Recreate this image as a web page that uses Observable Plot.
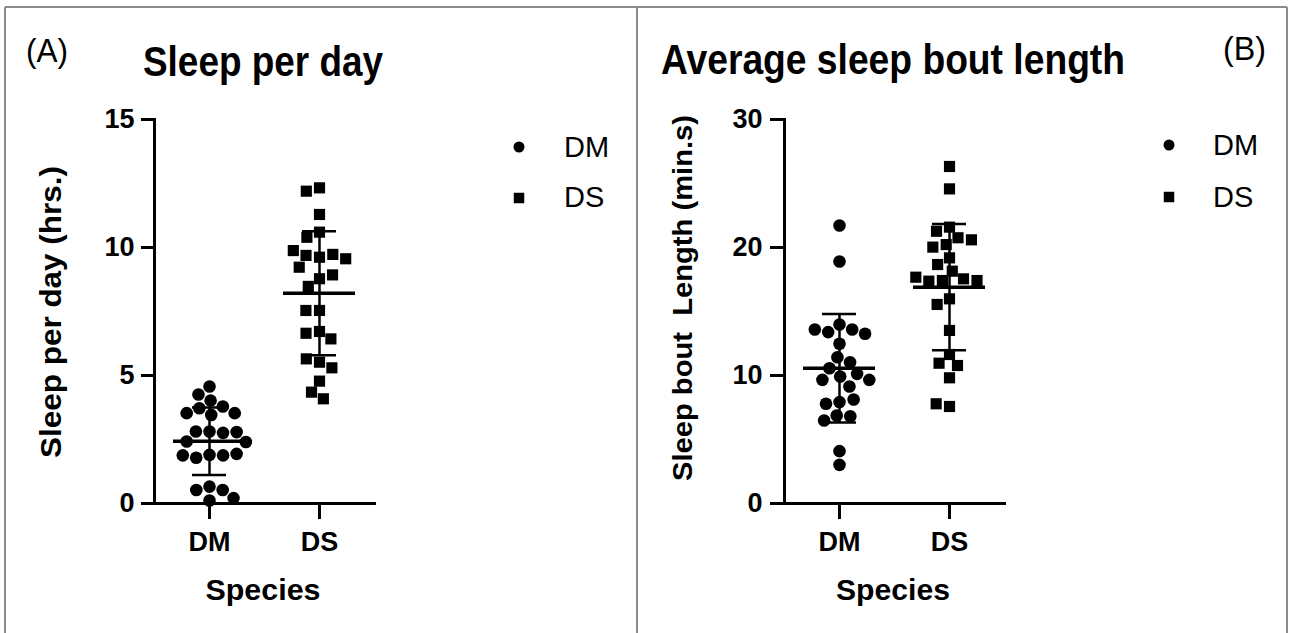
<!DOCTYPE html>
<html><head><meta charset="utf-8">
<script src="https://cdn.jsdelivr.net/npm/d3@7"></script>
<script src="https://cdn.jsdelivr.net/npm/@observablehq/plot@0.6"></script>
<style>
html,body{margin:0;padding:0;background:#fff;}
#wrap{position:relative;width:1289px;height:633px;overflow:hidden;background:#fff;}
#wrap svg{position:absolute;top:0;}
#wrap text{white-space:pre;}
</style></head><body><div id="wrap"></div>
<script>
const FONT = '"Liberation Sans", Arial, Helvetica, sans-serif';
// ---- data ----
const species = ["DM", "DS"];
const symbols = ["circle", "square"];
const sleepDM = [4.57, 4.26, 4.02, 3.72, 3.79, 3.53, 3.53, 3.46, 2.81, 2.81, 2.76, 2.79, 2.42, 2.40, 1.90, 1.79, 1.88, 1.88, 1.94, 0.66, 0.53, 0.53, 0.12, 0.21];
const sleepDS = [12.33, 12.20, 11.29, 10.60, 10.40, 9.62, 9.69, 9.73, 9.88, 9.56, 9.23, 8.78, 8.93, 8.48, 7.54, 7.54, 6.72, 6.65, 6.43, 5.52, 5.65, 5.30, 4.78, 4.35, 4.09];
const boutDM = [21.72, 18.91, 13.98, 13.39, 13.59, 13.59, 13.26, 12.48, 11.43, 11.04, 10.57, 9.92, 10.13, 9.66, 9.66, 9.14, 7.92, 7.79, 8.13, 6.88, 6.82, 6.48, 4.09, 3.02];
const boutDS = [26.33, 24.58, 21.59, 21.27, 20.76, 20.60, 20.23, 20.03, 19.19, 18.67, 18.15, 17.42, 17.55, 17.37, 17.42, 17.68, 15.99, 15.55, 13.52, 11.64, 10.96, 10.78, 9.82, 7.58, 7.79];
const sleepTicks = [0, 5, 10, 15];
const boutTicks = [0, 10, 20, 30];
const titles = ["Sleep per day", "Average sleep bout length"];
const panelTags = ["(A)", "(B)"];
const yLabels = ["Sleep per day (hrs.)", "Sleep bout  Length (min.s)"];
const xLabel = "Species";

const rowsOf = (dm, ds) => [
  ...dm.map(value => ({species: species[0], value})),
  ...ds.map(value => ({species: species[1], value}))
];
const hi = v => d3.mean(v) + d3.deviation(v);
const lo = v => d3.mean(v) - d3.deviation(v);
const centre = () => 0;

function panel({rows, yMax, ticks, width, marginLeft, marginRight, tickSize, tickPadding}) {
  return Plot.plot({
    width, height: 633, marginLeft, marginRight, marginTop: 119, marginBottom: 130,
    style: {fontFamily: FONT, background: "transparent", overflow: "visible", color: "black"},
    x: {domain: [-1, 1], axis: null},
    y: {domain: [0, yMax]},
    fx: {domain: species, paddingInner: 0, paddingOuter: 0.164, label: null},
    symbol: {domain: species, range: symbols},
    marks: [
      Plot.frame({anchor: "left", facet: "super", stroke: "black", strokeWidth: 3}),
      Plot.frame({anchor: "bottom", facet: "super", stroke: "black", strokeWidth: 3}),
      Plot.axisY(ticks, {tickSize, tickPadding, fontSize: 27, fontWeight: "bold", strokeWidth: 3, label: null}),
      Plot.axisFx({anchor: "bottom", tickSize: 16, tickPadding: 12, fontSize: 27, fontWeight: "bold", strokeWidth: 3, label: null}),
      Plot.dot(rows, Plot.dodgeX("middle", {y: "value", fx: "species", symbol: "species", r: 6.3, padding: 0, fill: "black", stroke: "none"})),
      Plot.ruleX(rows, Plot.groupZ({x: centre, y1: lo, y2: hi}, {x: "value", y1: "value", y2: "value", fx: "species", stroke: "black", strokeWidth: 2.5})),
      Plot.tickY(rows, Plot.groupZ({y: "mean"}, {y: "value", fx: "species", stroke: "black", strokeWidth: 3.5, insetLeft: 19, insetRight: 19})),
      Plot.tickY(rows, Plot.groupZ({y: hi}, {y: "value", fx: "species", stroke: "black", strokeWidth: 2.5, insetLeft: 38, insetRight: 38})),
      Plot.tickY(rows, Plot.groupZ({y: lo}, {y: "value", fx: "species", stroke: "black", strokeWidth: 2.5, insetLeft: 38, insetRight: 38}))
    ]
  });
}

const wrap = document.getElementById("wrap");
const pA = panel({rows: rowsOf(sleepDM, sleepDS), yMax: 15, ticks: sleepTicks, width: 637, marginLeft: 135, marginRight: 244, tickSize: 13, tickPadding: 7});
pA.style.left = "0px";
wrap.appendChild(pA);
const pB = panel({rows: rowsOf(boutDM, boutDS), yMax: 30, ticks: boutTicks, width: 652, marginLeft: 128, marginRight: 266, tickSize: 14, tickPadding: 8});
pB.style.left = "637px";
wrap.appendChild(pB);

// ---- overlay: frame, titles, labels, legends ----
const ov = d3.create("svg").attr("width", 1289).attr("height", 633)
  .style("left", "0px").style("pointer-events", "none").attr("font-family", FONT);
const border = "#8c8c8c";
ov.append("line").attr("x1", 5).attr("x2", 1287).attr("y1", 7).attr("y2", 7).attr("stroke", border).attr("stroke-width", 2);
[5, 637, 1287].forEach(x => ov.append("line").attr("x1", x).attr("x2", x).attr("y1", 7).attr("y2", 640).attr("stroke", border).attr("stroke-width", 2));

function txt(s, x, y, size, weight, len, anchor = "start", rot = 0) {
  const t = ov.append("text").attr("x", x).attr("y", y).attr("font-size", size)
    .attr("font-weight", weight).attr("text-anchor", anchor).attr("fill", "black")
    .attr("xml:space", "preserve").style("white-space", "pre").text(s);
  if (len) t.attr("textLength", len).attr("lengthAdjust", "spacingAndGlyphs");
  if (rot) t.attr("transform", `rotate(${rot},${x},${y})`);
  return t;
}
txt(panelTags[0], 26, 62, 34, "normal", 42);
txt(titles[0], 143, 76, 42, "bold", 240);
txt(panelTags[1], 1223, 60, 34, "normal", 43);
txt(titles[1], 661, 74, 42, "bold", 464);
txt(yLabels[0], 61, 312, 30, "bold", 292, "middle", -90);
txt(yLabels[1], 692, 298, 28, "bold", 366, "middle", -90);
txt(xLabel, 263, 600, 30, "bold", 115, "middle");
txt(xLabel, 893, 600, 30, "bold", 114, "middle");

const symGen = [d3.symbol(d3.symbolCircle, 95), d3.symbol(d3.symbolSquare, 110)];
const legends = [
  {sx: 519, tx: 564, ys: [147, 198], bs: [157, 207]},
  {sx: 1169, tx: 1213, ys: [145, 197], bs: [155, 207]}
];
legends.forEach(L => species.forEach((s, i) => {
  ov.append("path").attr("d", symGen[i]()).attr("transform", `translate(${L.sx},${L.ys[i]})`).attr("fill", "black");
  txt(s, L.tx, L.bs[i], 29, "normal", null);
}));
wrap.appendChild(ov.node());
</script></body></html>
